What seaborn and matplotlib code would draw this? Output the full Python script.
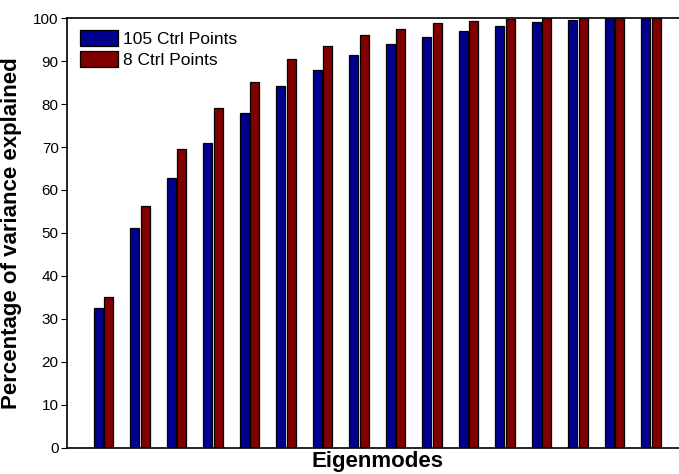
import matplotlib
matplotlib.use("Agg")
import matplotlib.pyplot as plt
import numpy as np
import pandas as pd
import seaborn as sns

# values
modes = list(range(1, 17))
series_names = ["105 Ctrl Points", "8 Ctrl Points"]
pts_105 = [32.6, 51.2, 62.7, 70.9, 77.8, 84.1, 88.0, 91.4,
           93.9, 95.6, 97.0, 98.2, 99.1, 99.6, 100.0, 100.0]
pts_8 = [35.0, 56.2, 69.5, 79.0, 85.2, 90.4, 93.6, 96.0,
         97.4, 98.8, 99.4, 99.8, 100.0, 100.0, 100.0, 100.0]
y_ticks = list(range(0, 101, 10))

sns.set_theme(style="ticks")
plt.rcParams["font.family"] = ["Liberation Sans", "DejaVu Sans"]
plt.rcParams["text.color"] = "black"
plt.rcParams["axes.labelcolor"] = "black"

df = pd.DataFrame({
    "Mode": modes * 2,
    "Variance": pts_105 + pts_8,
    "Series": [series_names[0]] * len(modes) + [series_names[1]] * len(modes),
})

fig = plt.figure(figsize=(6.79, 4.74), dpi=100)
ax = fig.add_axes([0.0987, 0.0549, 0.9138, 0.9071])

sns.barplot(
    data=df,
    x="Mode",
    y="Variance",
    hue="Series",
    palette=["#00008F", "#800000"],
    width=0.58,
    gap=0.15,
    edgecolor="black",
    linewidth=0.9,
    saturation=1,
    ax=ax,
)

ax.set_xlim(-1, 16)
ax.set_ylim(0, 100)
ax.set_yticks(y_ticks)
ax.set_xticks([])
ax.tick_params(axis="y", direction="out", length=4, width=0.8,
               labelsize=11, pad=2, colors="black")

for side in ["left", "bottom", "top", "right"]:
    ax.spines[side].set_visible(True)
    ax.spines[side].set_color("black")
    ax.spines[side].set_linewidth(1.2)

ax.set_ylabel("Percentage of variance explained", fontsize=16,
              weight="bold", labelpad=8, color="black")
ax.set_xlabel("Eigenmodes", fontsize=16, weight="bold", labelpad=2,
              color="black")

ax.legend(
    loc="upper left",
    bbox_to_anchor=(0.021, 0.972),
    frameon=False,
    fontsize=12.5,
    handlelength=2.2,
    handleheight=1.0,
    handletextpad=0.3,
    labelspacing=0.25,
    borderpad=0,
    borderaxespad=0,
)

fig.savefig("out.png", dpi=100)
plt.close(fig)
